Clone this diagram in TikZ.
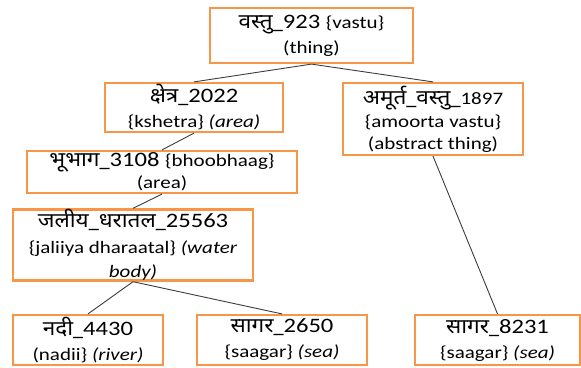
\documentclass[tikz,border=0pt]{standalone}
\usepackage{fontspec}
\setmainfont{Carlito}[FakeStretch=1.2]
\newfontfamily\deva[Script=Devanagari,FakeStretch=1.1]{Noto Sans}
\usepackage{tikz}
\usetikzlibrary{positioning,calc}
\definecolor{boxorange}{RGB}{247,150,70}
\definecolor{linkgray}{RGB}{60,60,60}
\newcommand{\tr}{\fontsize{17.5}{23}\selectfont}

\tikzset{
  concept/.style={draw=boxorange, line width=2.2pt, fill=white, inner sep=0pt,
    align=center, font=\fontsize{20.5}{25}\selectfont},
  link/.style={draw=linkgray, line width=0.9pt}
}

\begin{document}
\begin{tikzpicture}[x=1pt,y=-1pt]
        \useasboundingbox (0,0) rectangle (581,367);

        \node[concept, minimum width=203pt, minimum height=55pt] (vastu) at (311.5,35.5)
          {{\deva वस्तु\_}923 {\tr\{vastu\}}\\{\tr (thing)}};

        \node[concept, minimum width=178pt, minimum height=49pt] (kshetra) at (194,107.5)
          {{\deva क्षेत्र\_}2022\\{\tr\{kshetra\} \textit{(area)}}};

        \node[concept, minimum width=180pt, minimum height=72pt] (amoorta) at (433,119)
          {{\deva अमूर्त\_वस्तु\_}{\tr 1897}\\[-2pt]{\tr\{amoorta vastu\}}\\[-3pt]{\tr (abstract thing)}};

        \node[concept, minimum width=270pt, minimum height=42pt] (bhoobhaag) at (162,172)
          {{\deva भूभाग\_}3108 {\tr\{bhoobhaag\}}\\[-3pt]{\tr (area)}};

        \node[concept, minimum width=240pt, minimum height=66pt] (jaliiya) at (133,245)
          {{\deva जलीय\_धरातल\_}25563\\[1pt]{\tr\{jaliiya dharaatal\} \textit{(water}}\\[-1pt]{\tr\textit{body)}}};

        \node[concept, minimum width=150pt, minimum height=50pt] (nadii) at (88,340)
          {{\deva नदी\_}4430\\{\tr (nadii\} \textit{(river)}}};

        \node[concept, minimum width=170pt, minimum height=50pt] (saagarA) at (282,340)
          {{\deva सागर\_}2650\\{\tr\{saagar\} \textit{(sea)}}};

        \node[concept, minimum width=165pt, minimum height=50pt] (saagarB) at (497.5,340)
          {{\deva सागर\_}8231\\{\tr\{saagar\} \textit{(sea)}}};

        \draw[link] (vastu.south) -- (kshetra.north);
        \draw[link] (vastu.south) -- (amoorta.north);
        \draw[link] (kshetra.south) -- (bhoobhaag.north);
        \draw[link] (bhoobhaag.south) -- (jaliiya.north);
        \draw[link] (jaliiya.south) -- (nadii.north);
        \draw[link] (jaliiya.south) -- (saagarA.north);
        \draw[link] (amoorta.south) -- (saagarB.north);
\end{tikzpicture}
\end{document}
